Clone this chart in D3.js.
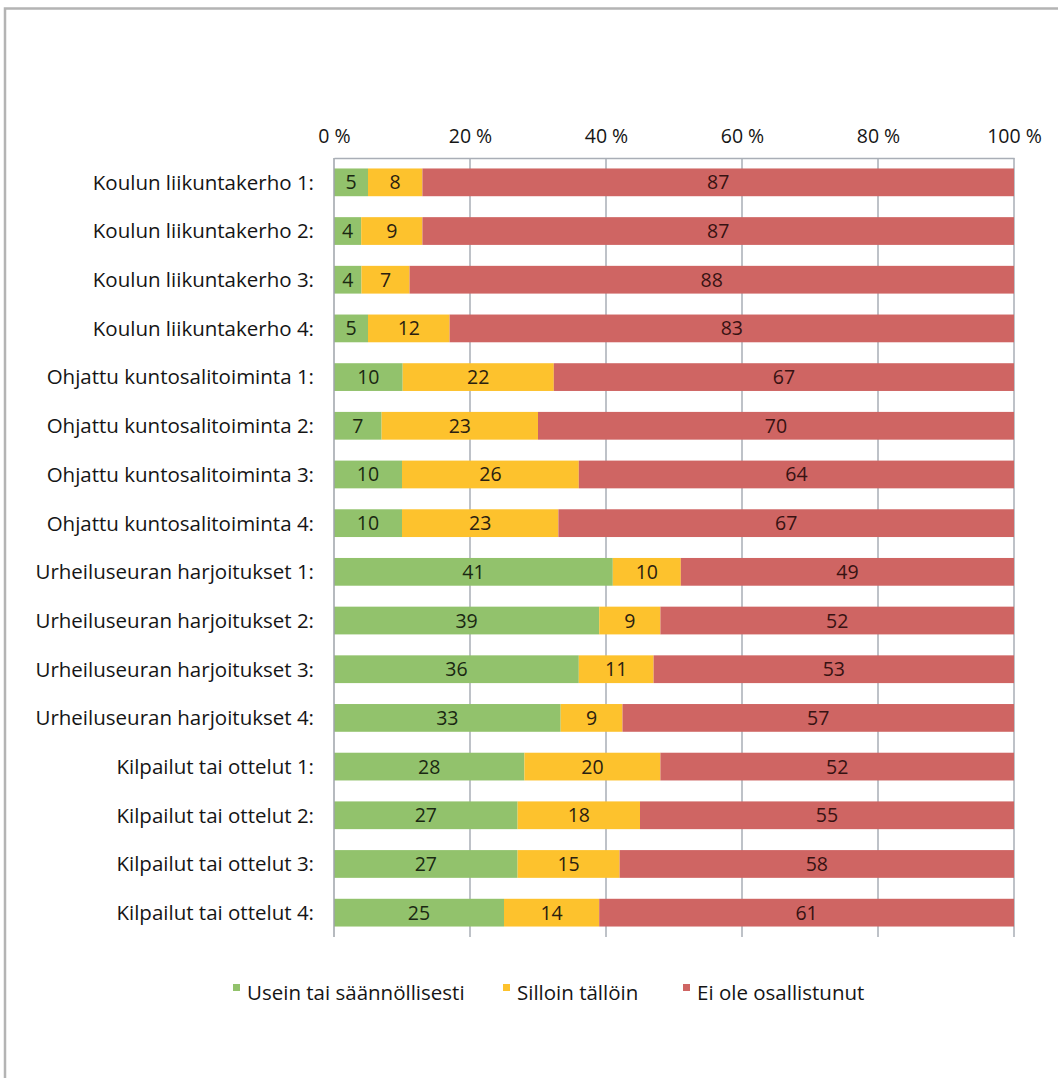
<!DOCTYPE html>
<html>
<head>
<meta charset="utf-8">
<script src="https://cdn.jsdelivr.net/npm/d3@7"></script>
<style>
  html, body { margin: 0; padding: 0; background: #fff; }
  svg { display: block; }
  text { font-family: "Open Sans", "Noto Sans", sans-serif; fill: #151515; font-weight: 500; }
</style>
</head>
<body>
<svg id="chart" width="1058" height="1078"></svg>
<script>
// Activity categories, top to bottom
const categories = [
  "Koulun liikuntakerho 1:",
  "Koulun liikuntakerho 2:",
  "Koulun liikuntakerho 3:",
  "Koulun liikuntakerho 4:",
  "Ohjattu kuntosalitoiminta 1:",
  "Ohjattu kuntosalitoiminta 2:",
  "Ohjattu kuntosalitoiminta 3:",
  "Ohjattu kuntosalitoiminta 4:",
  "Urheiluseuran harjoitukset 1:",
  "Urheiluseuran harjoitukset 2:",
  "Urheiluseuran harjoitukset 3:",
  "Urheiluseuran harjoitukset 4:",
  "Kilpailut tai ottelut 1:",
  "Kilpailut tai ottelut 2:",
  "Kilpailut tai ottelut 3:",
  "Kilpailut tai ottelut 4:"
];

// Shares (%) per answer option
const usein   = [5, 4, 4, 5, 10, 7, 10, 10, 41, 39, 36, 33, 28, 27, 27, 25];
const silloin = [8, 9, 7, 12, 22, 23, 26, 23, 10, 9, 11, 9, 20, 18, 15, 14];
const eiOle   = [87, 87, 88, 83, 67, 70, 64, 67, 49, 52, 53, 57, 52, 55, 58, 61];

const seriesNames = ["Usein tai säännöllisesti", "Silloin tällöin", "Ei ole osallistunut"];
const seriesKeys = ["usein", "silloin", "eiOle"];
const seriesColors = ["#92c26c", "#fdc22d", "#cf6563"];
const labelColors = ["#1a2812", "#2a2010", "#371212"];

const tickValues = [0, 0.2, 0.4, 0.6, 0.8, 1];
const tickLabels = ["0 %", "20 %", "40 %", "60 %", "80 %", "100 %"];

const rows = categories.map((c, i) => ({
  category: c, usein: usein[i], silloin: silloin[i], eiOle: eiOle[i]
}));

const svg = d3.select("#chart");

// outer frame
svg.append("path")
  .attr("d", "M5,1078 V8.5 H1058")
  .attr("fill", "none")
  .attr("stroke", "#b4b4b4")
  .attr("stroke-width", 2.5);

const x = d3.scaleLinear().domain([0, 1]).range([334, 1014]);
const y = d3.scaleBand().domain(categories).range([158, 937])
  .paddingInner(0.43).paddingOuter(0.215);

// 100 % stacked layout
const stacked = d3.stack().keys(seriesKeys).offset(d3.stackOffsetExpand)(rows);

// vertical gridlines
svg.append("g").selectAll("line")
  .data(tickValues.slice(1))
  .join("line")
  .attr("x1", d => x(d)).attr("x2", d => x(d))
  .attr("y1", 158).attr("y2", 937)
  .attr("stroke", "#a9aeb6").attr("stroke-width", 1.5);

// top axis
const axis = d3.axisTop(x).tickValues(tickValues)
  .tickFormat((d, i) => tickLabels[i]).tickSize(0).tickPadding(15);
const gAxis = svg.append("g").attr("transform", "translate(0,158)").call(axis);
gAxis.select(".domain").attr("stroke", "#a9aeb6").attr("stroke-width", 1.5);
gAxis.selectAll("text").attr("font-size", 19.5).attr("fill", "#151515")
  .attr("font-family", "'Open Sans', sans-serif");

// bars
const layers = svg.append("g").selectAll("g")
  .data(stacked)
  .join("g")
  .attr("fill", (d, i) => seriesColors[i]);

layers.selectAll("rect")
  .data(d => d.map(v => ({ v, cat: v.data.category })))
  .join("rect")
  .attr("x", d => x(d.v[0]))
  .attr("y", d => y(d.cat))
  .attr("width", d => x(d.v[1]) - x(d.v[0]))
  .attr("height", y.bandwidth());

// left category axis line
svg.append("line")
  .attr("x1", x(0)).attr("x2", x(0))
  .attr("y1", 158).attr("y2", 937)
  .attr("stroke", "#9ea3aa").attr("stroke-width", 1.5);

// segment value labels
const labels = svg.append("g");
stacked.forEach((layer, si) => {
  labels.selectAll(null)
    .data(layer)
    .join("text")
    .attr("x", d => (x(d[0]) + x(d[1])) / 2)
    .attr("y", d => y(d.data.category) + y.bandwidth() / 2)
    .attr("dy", "0.36em")
    .attr("text-anchor", "middle")
    .attr("font-size", 19.5)
    .style("fill", labelColors[si])
    .text(d => d.data[seriesKeys[si]]);
});

// category labels
svg.append("g").selectAll("text")
  .data(categories)
  .join("text")
  .attr("x", 314)
  .attr("y", d => y(d) + y.bandwidth() / 2)
  .attr("dy", "0.36em")
  .attr("text-anchor", "end")
  .attr("font-size", 20.5)
  .text(d => d);

// legend
const legendX = [233, 503, 683];
const legend = svg.append("g").selectAll("g")
  .data(seriesNames)
  .join("g")
  .attr("transform", (d, i) => `translate(${legendX[i]},984)`);
legend.append("rect")
  .attr("width", 7).attr("height", 7)
  .attr("fill", (d, i) => seriesColors[i]);
legend.append("text")
  .attr("x", 14).attr("y", 16)
  .attr("font-size", 20.5)
  .text(d => d);
</script>
</body>
</html>
